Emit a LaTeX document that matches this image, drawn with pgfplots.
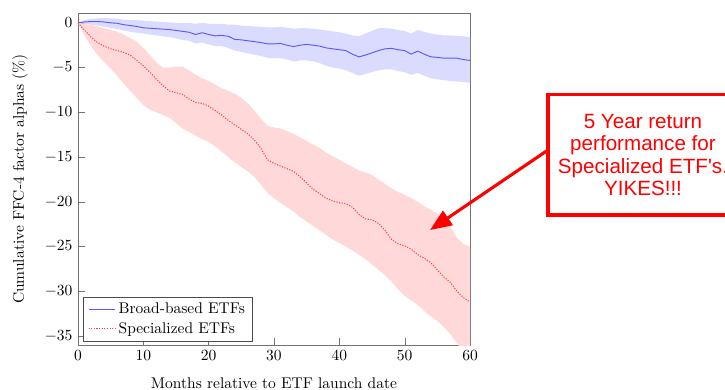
\documentclass[border=0pt]{standalone}
\usepackage{pgfplots}
\pgfplotsset{compat=1.18}
\usepackage{pgfplotstable}
\usepgfplotslibrary{fillbetween}
\usetikzlibrary{arrows.meta}
\usepackage{fontspec}
\newfontfamily\arialfont{Liberation Sans}

\pgfplotstableread{
x mean lo hi
0 0 0 0
1 0.1 -0.1 0.3
2 0.15 -0.2 0.45
3 0.15 -0.3 0.5
4 0.1 -0.45 0.55
5 0.0 -0.55 0.5
6 -0.05 -0.7 0.45
7 -0.2 -0.85 0.35
8 -0.3 -1.0 0.3
9 -0.4 -1.1 0.3
10 -0.55 -1.2 0.25
11 -0.6 -1.3 0.2
12 -0.65 -1.4 0.15
13 -0.7 -1.5 0.1
14 -0.75 -1.6 0.05
15 -0.85 -1.75 0.0
16 -0.95 -1.9 0.0
17 -1.05 -2.0 0.0
18 -1.3 -2.3 -0.1
19 -1.1 -2.2 0.0
20 -1.3 -2.4 -0.1
21 -1.45 -2.6 -0.1
22 -1.4 -2.6 -0.1
23 -1.5 -2.8 -0.2
24 -1.85 -3.1 -0.2
25 -1.9 -3.25 -0.3
26 -2.0 -3.4 -0.35
27 -2.1 -3.55 -0.4
28 -2.2 -3.7 -0.45
29 -2.35 -3.9 -0.5
30 -2.35 -3.95 -0.5
31 -2.3 -3.95 -0.45
32 -2.5 -4.1 -0.55
33 -2.65 -4.3 -0.65
34 -2.5 -4.2 -0.6
35 -2.4 -4.2 -0.6
36 -2.5 -4.3 -0.65
37 -2.6 -4.5 -0.75
38 -2.8 -4.8 -0.85
39 -2.9 -5.0 -0.95
40 -3.0 -5.1 -1.05
41 -3.1 -5.3 -1.2
42 -3.5 -5.6 -1.4
43 -3.8 -5.9 -1.5
44 -3.6 -5.7 -1.2
45 -3.35 -5.5 -0.9
46 -3.1 -5.3 -0.6
47 -2.9 -5.2 -0.6
48 -2.85 -5.2 -0.65
49 -3.0 -5.4 -0.8
50 -3.1 -5.5 -0.9
51 -3.5 -5.8 -1.2
52 -3.15 -5.6 -0.8
53 -3.5 -5.9 -1.0
54 -3.8 -6.2 -1.2
55 -3.85 -6.3 -1.3
56 -3.95 -6.4 -1.4
57 -3.95 -6.5 -1.4
58 -3.95 -6.55 -1.45
59 -4.1 -6.6 -1.5
60 -4.2 -6.7 -1.6
}\broadtab

\pgfplotstableread{
x mean lo hi
0 0 0 0
1 -0.8 -1.4 -0.1
2 -1.6 -2.6 -0.2
3 -2.2 -3.6 -0.4
4 -2.6 -4.4 -0.6
5 -2.9 -5.1 -0.8
6 -3.1 -5.9 -1.0
7 -3.3 -6.8 -1.3
8 -3.6 -7.6 -1.7
9 -4.2 -8.4 -2.1
10 -4.8 -9.2 -2.8
11 -5.5 -9.7 -3.6
12 -6.3 -10.0 -4.4
13 -7.0 -10.3 -5.0
14 -7.6 -10.6 -5.0
15 -7.8 -11.2 -4.9
16 -8.0 -11.8 -4.9
17 -8.5 -12.2 -5.3
18 -8.9 -12.6 -5.8
19 -9.0 -13.0 -6.2
20 -9.3 -13.3 -6.5
21 -9.8 -13.8 -6.9
22 -10.3 -14.4 -7.3
23 -10.9 -15.0 -7.6
24 -11.4 -15.6 -7.9
25 -11.9 -16.1 -8.4
26 -12.4 -16.6 -9.0
27 -13.1 -17.2 -9.8
28 -14.0 -18.1 -10.7
29 -15.3 -19.0 -11.5
30 -15.7 -19.6 -11.7
31 -16.0 -20.1 -11.8
32 -16.3 -20.6 -12.1
33 -16.6 -21.1 -12.4
34 -17.2 -21.7 -12.8
35 -17.9 -22.2 -13.2
36 -18.6 -22.7 -13.6
37 -19.1 -23.2 -14.0
38 -19.6 -23.7 -14.5
39 -19.9 -24.2 -14.9
40 -20.1 -24.6 -15.3
41 -20.2 -25.0 -15.7
42 -20.6 -25.4 -16.1
43 -21.4 -25.9 -16.5
44 -21.9 -26.4 -16.7
45 -22.0 -27.0 -17.0
46 -22.4 -27.6 -17.5
47 -23.2 -28.2 -18.0
48 -24.2 -28.9 -18.5
49 -24.7 -29.8 -18.9
50 -24.9 -30.5 -19.2
51 -25.3 -31.0 -19.6
52 -25.9 -31.5 -20.0
53 -26.3 -32.2 -20.5
54 -26.8 -32.8 -20.9
55 -27.6 -33.3 -21.3
56 -28.4 -34.0 -21.8
57 -29.0 -34.8 -22.8
58 -30.0 -35.8 -24.0
59 -30.7 -36.8 -24.7
60 -31.2 -37.5 -25.0
}\spectab

\begin{document}
\begin{tikzpicture}
\begin{axis}[
  at={(0,0)}, anchor=south west,
  scale only axis, width=252.9pt, height=214.2pt,
  xmin=0, xmax=60, ymin=-36, ymax=1.1,
  xtick={0,10,...,60}, ytick={0,-5,-10,-15,-20,-25,-30,-35},
  tick pos=left, tick align=inside,
  axis line style={black!55},
  major tick style={black!55},
  xlabel={Months relative to ETF launch date},
  ylabel={Cumulative FFC-4 factor alphas (\%)},
  xlabel style={at={(axis description cs:0.5,-0.114)}, anchor=center},
  ylabel style={at={(axis description cs:-0.148,0.5)}, anchor=center},
  legend style={at={(axis description cs:0.013,0.009)}, anchor=south west, draw=black!70, font=\normalsize},
  legend cell align=left,
]
\addplot[draw=none, name path=bhi, forget plot] table[x=x, y=hi] {\broadtab};
\addplot[draw=none, name path=blo, forget plot] table[x=x, y=lo] {\broadtab};
\addplot[fill=blue!14, draw=none, forget plot] fill between[of=bhi and blo];
\addplot[draw=none, name path=shi, forget plot] table[x=x, y=hi] {\spectab};
\addplot[draw=none, name path=slo, forget plot] table[x=x, y=lo] {\spectab};
\addplot[fill=red!15, draw=none, forget plot] fill between[of=shi and slo];
\addplot[blue!65, line width=0.6pt] table[x=x, y=mean] {\broadtab};
\addlegendentry{Broad-based ETFs}
\addplot[red!75, densely dotted, line width=0.7pt] table[x=x, y=mean] {\spectab};
\addlegendentry{Specialized ETFs}
\end{axis}
\draw[red, line width=2pt] (303.2pt,83.9pt) rectangle (425.8pt,161.9pt);
\node[text=red, font=\arialfont\fontsize{13.3}{14.3}\selectfont, align=center] at (364.5pt,122.6pt)
  {5 Year return\\performance for\\Specialized ETF's.\\YIKES!!!};
\draw[red, line width=2pt, -{Triangle[length=14pt,width=11pt]}] (303.2pt,125.8pt) -- (227.1pt,74.2pt);
\pgfresetboundingbox
\useasboundingbox (-50.3pt,-28.4pt) rectangle (417.4pt,222.6pt);
\end{tikzpicture}
\end{document}
